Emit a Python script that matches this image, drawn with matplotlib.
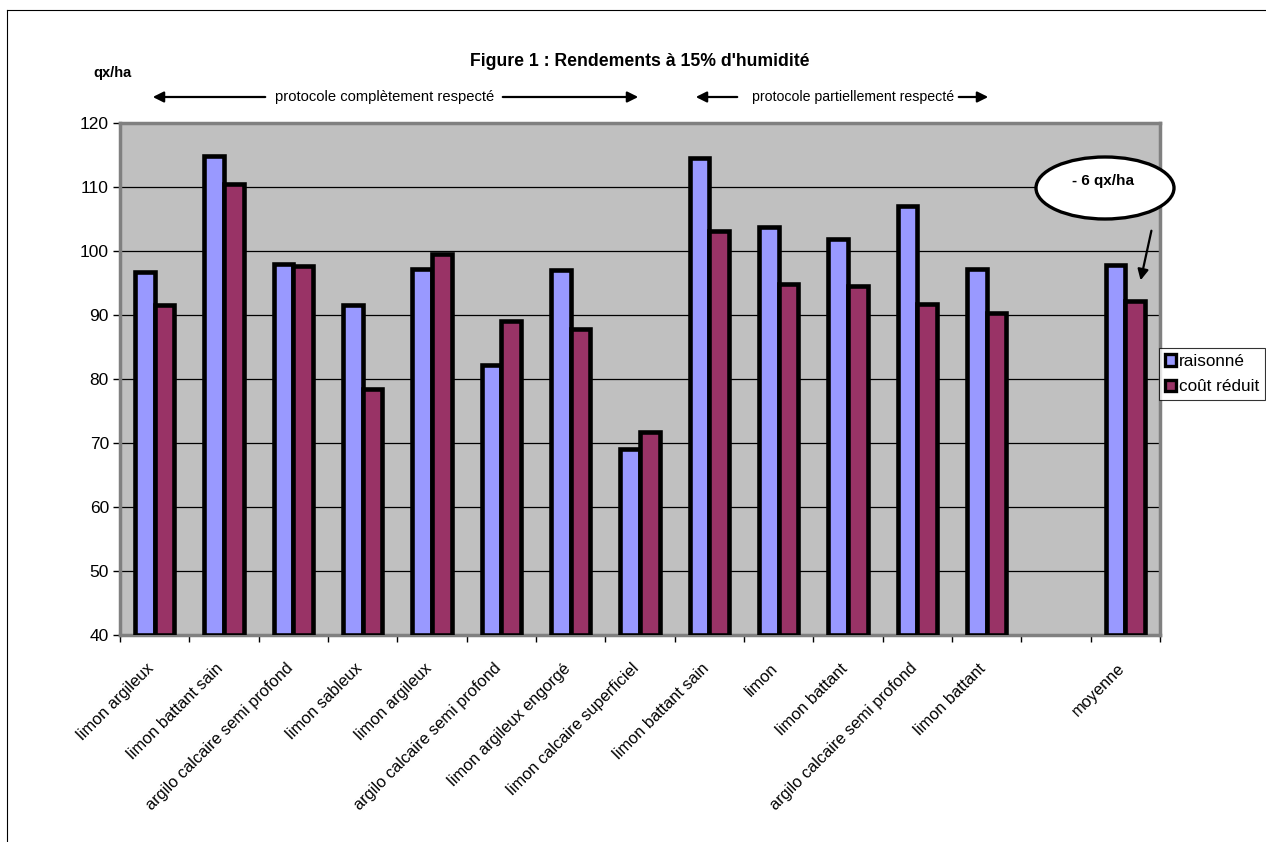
import numpy as np
import matplotlib.pyplot as plt
from matplotlib.patches import Ellipse, Patch
from matplotlib.lines import Line2D
from matplotlib.transforms import ScaledTranslation

plt.rcParams['font.family'] = ['Liberation Sans', 'DejaVu Sans']

categories = ["limon argileux", "limon battant sain", "argilo calcaire semi profond", "limon sableux",
              "limon argileux", "argilo calcaire semi profond", "limon argileux engorgé",
              "limon calcaire superficiel", "limon battant sain", "limon", "limon battant",
              "argilo calcaire semi profond", "limon battant", "", "moyenne"]
raisonne = [96.7, 114.9, 98.0, 91.5, 97.2, 82.2, 97.1, 69.0, 114.5, 103.7, 101.9, 107.1, 97.2, np.nan, 97.8]
cout_reduit = [91.5, 110.4, 97.6, 78.4, 99.5, 89.0, 87.8, 71.7, 103.1, 94.9, 94.5, 91.7, 90.3, np.nan, 92.2]
series_names = ["raisonné", "coût réduit"]
y_ticks = [40, 50, 60, 70, 80, 90, 100, 110, 120]

W, H = 1266, 842
BLUE, PLUM = '#9999FF', '#993366'


def px(x, y):
    # pixel position (top-left origin) -> figure fraction
    return x / W, 1 - y / H


fig = plt.figure(figsize=(W / 100, H / 100), dpi=100)
ax = fig.add_axes([120 / W, 1 - 635 / H, 1040 / W, 512 / H])
ax.set_facecolor('#C0C0C0')

n = len(categories)
x = np.arange(n)
bw = 1 / 3.5
for vals, off, col in [(raisonne, -bw / 2, BLUE), (cout_reduit, bw / 2, PLUM)]:
    v = np.array(vals, dtype=float)
    ok = ~np.isnan(v)
    ax.bar(x[ok] + off, v[ok] - 40, bottom=40, width=bw, color=col, edgecolor='black',
           linewidth=3.3, zorder=3)

ax.set_xlim(-0.5, n - 0.5)
ax.set_ylim(40, 120)
ax.set_yticks(y_ticks)
ax.set_yticklabels([str(t) for t in y_ticks], fontsize=12.5)
ax.yaxis.grid(True, color='black', linewidth=0.9)
ax.set_axisbelow(True)
for s in ax.spines.values():
    s.set_color('#808080')
    s.set_linewidth(2.5)

# boundary ticks, labels centred on the categories
ax.set_xticks(np.arange(n + 1) - 0.5)
ax.set_xticklabels([])
ax.set_xticks(x, minor=True)
ax.set_xticklabels(categories, minor=True, rotation=45, ha='right', va='center',
                   rotation_mode='anchor', fontsize=11.8)
ax.tick_params(axis='x', which='minor', length=0, pad=0)
ax.tick_params(axis='both', which='major', length=5, width=1, color='black')
ax.tick_params(axis='y', pad=3)
shift = ScaledTranslation(-3 / 100, -31 / 100, fig.dpi_scale_trans)
for lab in ax.get_xticklabels(minor=True):
    lab.set_transform(lab.get_transform() + shift)

fig.text(*px(640, 62), "Figure 1 : Rendements à 15% d'humidité", ha='center', va='center',
         fontsize=12.7, fontweight='bold')
fig.text(*px(112, 73), "qx/ha", ha='center', va='center', fontsize=10.5, fontweight='bold')

# protocol range markers above the plot
arrow_kw = dict(arrowstyle='-|>', color='black', lw=1.6, mutation_scale=16)
fig.text(*px(385, 97), "protocole complètement respecté", ha='center', va='center', fontsize=10.6)
ax.annotate('', xy=px(150, 97), xytext=px(268, 97), xycoords='figure fraction', arrowprops=arrow_kw)
ax.annotate('', xy=px(641, 97), xytext=px(500, 97), xycoords='figure fraction', arrowprops=arrow_kw)
fig.text(*px(853, 97), "protocole partiellement respecté", ha='center', va='center', fontsize=10.2)
ax.annotate('', xy=px(693, 97), xytext=px(740, 97), xycoords='figure fraction', arrowprops=arrow_kw)
ax.annotate('', xy=px(991, 97), xytext=px(956, 97), xycoords='figure fraction', arrowprops=arrow_kw)

# callout on the average
ell = Ellipse(px(1105, 188), 138 / W, 62 / H, transform=fig.transFigure, facecolor='white',
              edgecolor='black', linewidth=2.4, zorder=5)
fig.add_artist(ell)
fig.text(*px(1103, 181), "- 6 qx/ha", ha='center', va='center', fontsize=11, fontweight='bold', zorder=6)
ax.annotate('', xy=px(1140, 283), xytext=px(1152, 228), xycoords='figure fraction',
            arrowprops=dict(arrowstyle='-|>', color='black', lw=1.6, mutation_scale=16))

handles = [Patch(facecolor=BLUE, edgecolor='black', linewidth=2.4),
           Patch(facecolor=PLUM, edgecolor='black', linewidth=2.4)]
leg = fig.legend(handles, series_names, loc='upper left', bbox_to_anchor=px(1159, 348),
                 fontsize=12.3, frameon=True, fancybox=False, edgecolor='black',
                 handlelength=0.65, handleheight=0.65, handletextpad=0.15, borderpad=0.35,
                 labelspacing=0.6, borderaxespad=0)
leg.get_frame().set_linewidth(0.8)

# outer chart frame
fig.add_artist(Line2D([7 / W, 7 / W], [0, 1 - 10 / H], transform=fig.transFigure, color='black', lw=0.8))
fig.add_artist(Line2D([7 / W, 1], [1 - 10 / H, 1 - 10 / H], transform=fig.transFigure, color='black', lw=0.8))

fig.savefig('out.png', dpi=100)
